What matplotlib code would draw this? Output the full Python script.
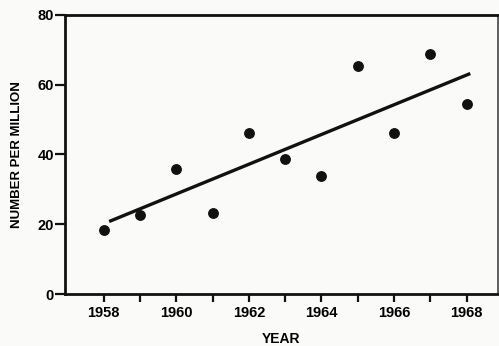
import matplotlib.pyplot as plt

# Data
years = [1958, 1959, 1960, 1961, 1962, 1963, 1964, 1965, 1966, 1967, 1968]
number_per_million = [18.3, 22.6, 35.7, 23.1, 46.3, 38.6, 33.7, 65.4, 46.3, 68.9, 54.6]

# Trend line endpoints as drawn
trend_years = [1958.15, 1968.1]
trend_values = [20.8, 63.2]

x_ticks = list(range(1958, 1969))
x_tick_labels = [str(y) if y % 2 == 0 else "" for y in x_ticks]
y_ticks = [0, 20, 40, 60, 80]

plt.rcParams['font.family'] = ['Liberation Sans', 'DejaVu Sans']

fig = plt.figure(figsize=(4.99, 3.46), dpi=100)
fig.patch.set_facecolor("#fafaf8")
ax = fig.add_axes([0.130, 0.150, 0.867, 0.807])
ax.set_facecolor("#fafaf8")

ax.plot(years, number_per_million, "o", color="#111111", markersize=6.8)
ax.plot(trend_years, trend_values, color="#111111", linewidth=2.4, solid_capstyle="butt")

ax.set_xlim(1956.93, 1968.85)
ax.set_ylim(0, 80)
ax.set_xticks(x_ticks)
ax.set_xticklabels(x_tick_labels, fontsize=10.5, fontweight="bold")
ax.set_yticks(y_ticks)
ax.set_yticklabels([str(v) for v in y_ticks], fontsize=10.5, fontweight="bold")
ax.tick_params(axis="x", direction="out", length=5.5, width=1.6, color="#111111", pad=3)
ax.tick_params(axis="y", direction="out", length=7, width=1.6, color="#111111", pad=1)

for spine in ax.spines.values():
    spine.set_linewidth(2.0)
    spine.set_color("#111111")
ax.spines["right"].set_linewidth(1.2)
ax.spines["right"].set_color("#444444")

ax.set_xlabel("YEAR", fontsize=10, fontweight="bold", labelpad=9)
ax.set_ylabel("NUMBER PER MILLION", fontsize=9.5, fontweight="bold", labelpad=10)

fig.savefig("out.png", dpi=100, facecolor=fig.get_facecolor())
